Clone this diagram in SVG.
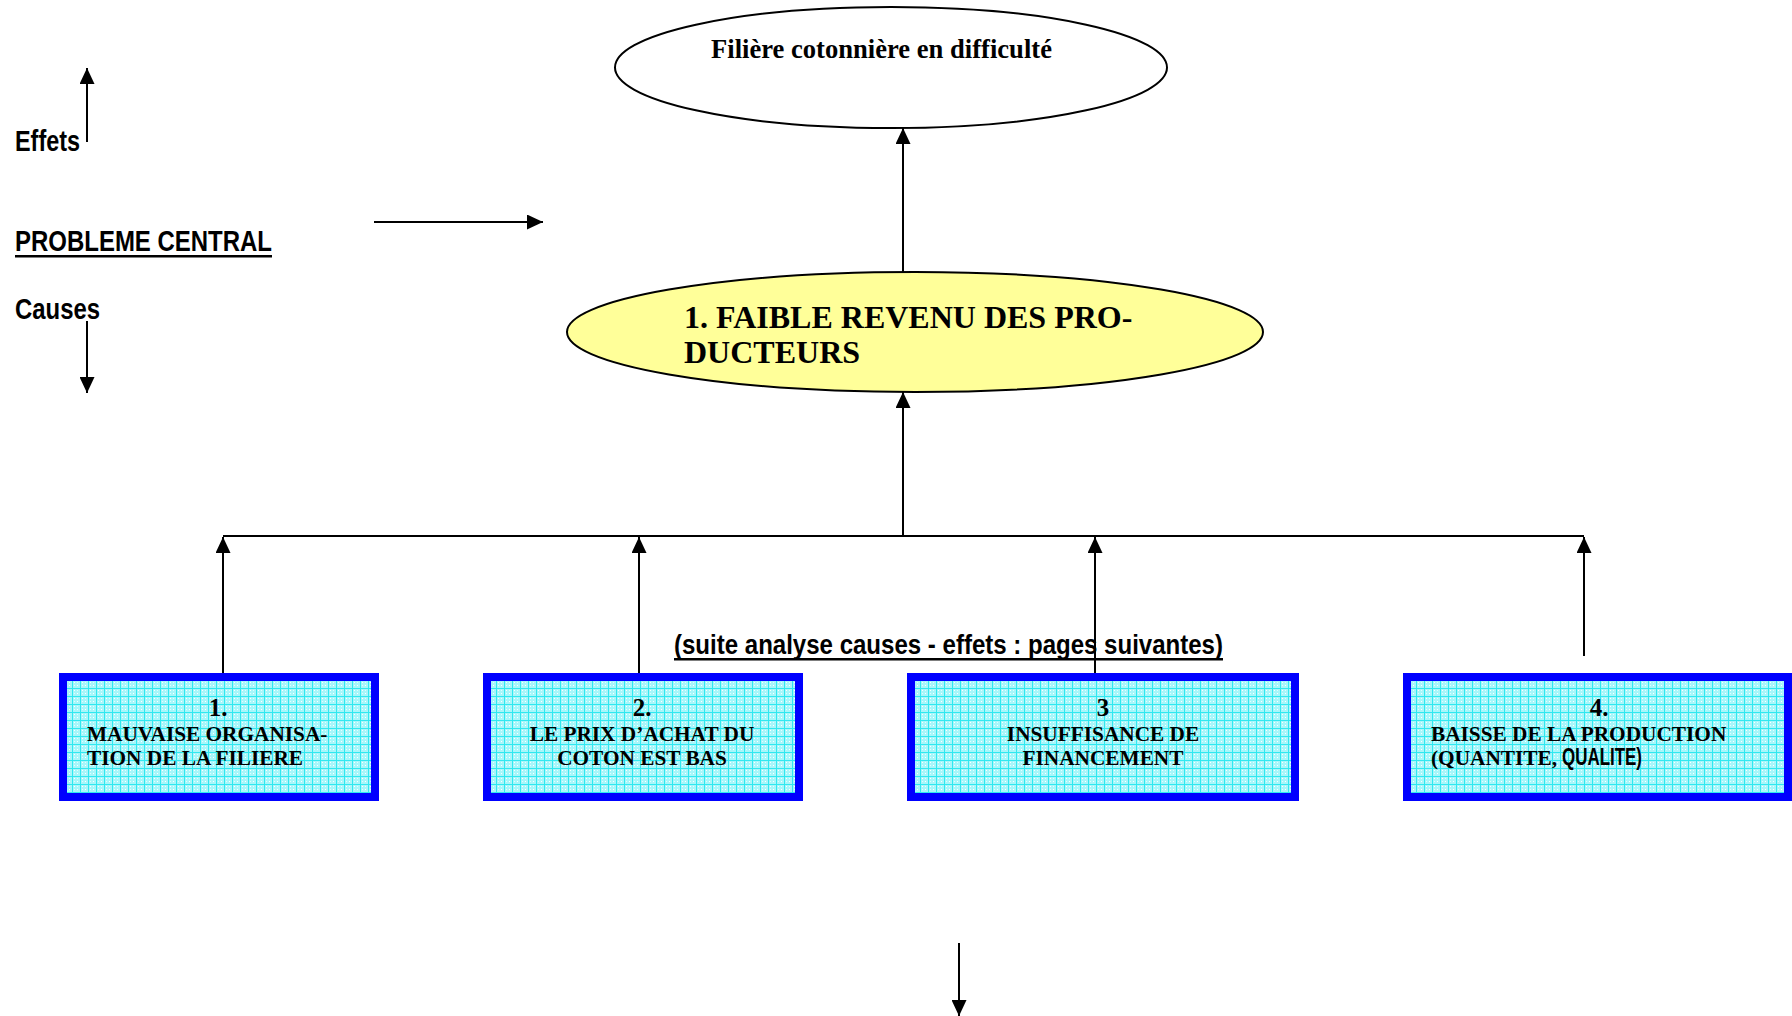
<svg xmlns="http://www.w3.org/2000/svg" width="1792" height="1016" viewBox="0 0 1792 1016">
<style>
.serif{font-family:"Liberation Serif","Times New Roman",serif;font-weight:bold;fill:#000}
.sans{font-family:"Liberation Sans",Arial,sans-serif;font-weight:bold;fill:#000}
.conn{stroke:#000;stroke-width:2;fill:none}
.box{fill:url(#grid);stroke:#0000ff;stroke-width:8}
.ell{stroke:#000;stroke-width:2}
.bt{font-size:21.3px}
.bn{font-size:25px}
</style>
<defs>
<pattern id="grid" width="8" height="8" patternUnits="userSpaceOnUse">
<rect width="8" height="8" fill="#a8f6fa"/>
<rect x="2" y="2" width="1" height="1" fill="#ffffff"/>
<rect x="5" y="5" width="1" height="1" fill="#ffffff"/>
<rect x="5" y="2" width="1" height="1" fill="#e0ffff"/>
<rect x="2" y="5" width="1" height="1" fill="#e0ffff"/>
<path d="M0,0.5H8M0.5,0V8" stroke="#30e8f0" stroke-width="1"/>
</pattern>
<marker id="ah" markerUnits="userSpaceOnUse" markerWidth="16" markerHeight="15" refX="16" refY="7.5" orient="auto">
<path d="M0,0L16,7.5L0,15z" fill="#000"/>
</marker>
</defs>
<rect width="1792" height="1016" fill="#fff"/>

<g id="legend">
<text class="sans" x="15" y="151" font-size="29" textLength="65" lengthAdjust="spacingAndGlyphs">Effets</text>
<text class="sans" x="15" y="251" font-size="29" textLength="257" lengthAdjust="spacingAndGlyphs">PROBLEME CENTRAL</text>
<rect x="15" y="255" width="257" height="2.5" fill="#000"/>
<text class="sans" x="15" y="319" font-size="29" textLength="85" lengthAdjust="spacingAndGlyphs">Causes</text>
</g>

<g id="effect">
<ellipse class="ell" cx="891" cy="67.5" rx="276" ry="60.5" fill="#fff"/>
<text class="serif" x="711" y="58" font-size="26.6">Filière cotonnière en difficulté</text>
</g>

<g id="central">
<ellipse class="ell" cx="915" cy="332" rx="348" ry="60" fill="#ffff99"/>
<text class="serif" x="684" y="328" font-size="32">1. FAIBLE REVENU DES PRO-</text>
<text class="serif" x="684" y="363" font-size="32">DUCTEURS</text>
</g>

<g id="note">
<text class="sans" x="674" y="654" font-size="27.5" textLength="549" lengthAdjust="spacingAndGlyphs">(suite analyse causes - effets : pages suivantes)</text>
<rect x="674" y="658" width="549" height="2.5" fill="#000"/>
</g>

<g id="cause1">
<rect class="box" x="63" y="677" width="312" height="120"/>
<text class="serif bn" x="218" y="716" text-anchor="middle">1.</text>
<text class="serif bt" x="87" y="741">MAUVAISE ORGANISA-</text>
<text class="serif bt" x="87" y="765">TION DE LA FILIERE</text>
</g>

<g id="cause2">
<rect class="box" x="487" y="677" width="312" height="120"/>
<text class="serif bn" x="642" y="716" text-anchor="middle">2.</text>
<text class="serif bt" x="642" y="741" text-anchor="middle">LE PRIX D’ACHAT DU</text>
<text class="serif bt" x="642" y="765" text-anchor="middle">COTON EST BAS</text>
</g>

<g id="cause3">
<rect class="box" x="911" y="677" width="384" height="120"/>
<text class="serif bn" x="1103" y="716" text-anchor="middle">3</text>
<text class="serif bt" x="1103" y="741" text-anchor="middle">INSUFFISANCE DE</text>
<text class="serif bt" x="1103" y="765" text-anchor="middle">FINANCEMENT</text>
</g>

<g id="cause4">
<rect class="box" x="1407" y="677" width="381" height="120"/>
<text class="serif bn" x="1599" y="716" text-anchor="middle">4.</text>
<text class="serif bt" x="1431" y="741">BAISSE DE LA PRODUCTION</text>
<text class="serif bt" x="1431" y="765">(QUANTITE,<tspan class="sans" x="1562" font-size="23" textLength="80" lengthAdjust="spacingAndGlyphs">QUALITE)</tspan></text>
</g>

<g id="connectors">
<line class="conn" x1="87" y1="142" x2="87" y2="68" marker-end="url(#ah)"/>
<line class="conn" x1="87" y1="321" x2="87" y2="393" marker-end="url(#ah)"/>
<line class="conn" x1="374" y1="222" x2="543" y2="222" marker-end="url(#ah)"/>
<line class="conn" x1="903" y1="272" x2="903" y2="128" marker-end="url(#ah)"/>
<line class="conn" x1="903" y1="536" x2="903" y2="392" marker-end="url(#ah)"/>
<line class="conn" x1="223" y1="536" x2="1584" y2="536"/>
<line class="conn" x1="223" y1="673" x2="223" y2="537" marker-end="url(#ah)"/>
<line class="conn" x1="639" y1="673" x2="639" y2="537" marker-end="url(#ah)"/>
<line class="conn" x1="1095" y1="673" x2="1095" y2="537" marker-end="url(#ah)"/>
<line class="conn" x1="1584" y1="656" x2="1584" y2="537" marker-end="url(#ah)"/>
<line class="conn" x1="959" y1="943" x2="959" y2="1016" marker-end="url(#ah)"/>
</g>
</svg>
